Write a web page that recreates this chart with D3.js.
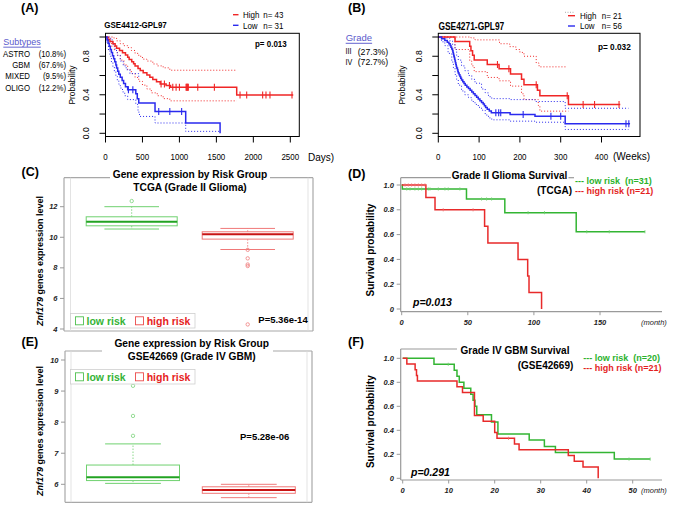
<!DOCTYPE html>
<html><head><meta charset="utf-8">
<script src="https://cdn.jsdelivr.net/npm/d3@7"></script>
<style>body{margin:0;background:#fff} svg{display:block} text{font-family:"Liberation Sans",Arial,Helvetica,sans-serif}</style>
</head><body><svg id="c" width="675" height="506"></svg>
<script>
// ---------------- DATA ----------------
const subtypeNames = ["ASTRO","GBM","MIXED","OLIGO"];
const subtypePct = ["(10.8%)","(67.6%)","(9.5%)","(12.2%)"];
const gradeNames = ["III","IV"];
const gradePct = ["(27.3%)","(72.7%)"];

// Panel A (days, probability)
const kmA_high = [[0,1],[30,0.977],[60,0.953],[100,0.93],[130,0.907],[150,0.884],[190,0.86],[230,0.837],[270,0.814],[300,0.791],[320,0.767],[355,0.744],[380,0.721],[400,0.698],[440,0.674],[470,0.651],[510,0.628],[560,0.605],[600,0.581],[640,0.558],[690,0.535],[740,0.512],[820,0.497],[880,0.478],[1775,0.398],[2540,0.398]];
const censA_high = [752,797,865,910,955,1000,1090,1099,1105,1113,1120,1248,1473,1820,1910,2126,2171,2225,2523];
const kmA_low = [[0,1],[20,0.968],[35,0.935],[50,0.903],[65,0.871],[80,0.839],[95,0.806],[110,0.774],[125,0.742],[140,0.71],[150,0.677],[165,0.645],[180,0.613],[200,0.581],[225,0.548],[245,0.516],[270,0.484],[300,0.452],[410,0.41],[430,0.36],[450,0.315],[670,0.227],[1085,0.108],[1550,0]];
const censA_low = [310,370,720,870,1030];
const ciA_high_up = [[0,1],[80,1],[110,0.99],[150,0.96],[200,0.93],[250,0.91],[300,0.89],[350,0.86],[400,0.83],[450,0.8],[500,0.77],[560,0.75],[640,0.72],[700,0.7],[780,0.68],[870,0.655],[1775,0.655]];
const ciA_high_lo = [[0,1],[40,0.95],[80,0.905],[120,0.86],[160,0.81],[200,0.76],[250,0.71],[300,0.66],[350,0.62],[400,0.58],[450,0.54],[500,0.5],[560,0.46],[620,0.42],[700,0.39],[780,0.36],[870,0.337],[1775,0.337]];
const ciA_low_up = [[0,1],[40,1],[70,0.97],[100,0.92],[130,0.86],[160,0.81],[200,0.75],[240,0.7],[280,0.66],[330,0.62],[450,0.58]];
const ciA_low_lo = [[0,1],[20,0.93],[40,0.86],[60,0.8],[80,0.74],[100,0.69],[120,0.64],[140,0.59],[160,0.55],[180,0.51],[200,0.47],[230,0.43],[260,0.39],[300,0.35],[410,0.3],[440,0.22],[460,0.175],[670,0.107],[1085,0.02],[1540,0.02]];
const ticksA_x = [0,500,1000,1500,2000,2500];

// Panel B (weeks, probability)
const kmB_high = [[0,1],[41,0.952],[77,0.905],[80,0.857],[84,0.81],[88,0.762],[120,0.714],[149,0.67],[177,0.615],[204,0.56],[210,0.505],[243,0.447],[249,0.389],[319,0.3],[446,0.3]];
const censB_high = [145,173,240,316,355,383,443];
const kmB_low = [[0,1],[8,0.982],[16,0.964],[22,0.946],[26,0.929],[29,0.911],[31,0.893],[33,0.875],[35,0.857],[36,0.839],[37,0.821],[38,0.804],[39,0.786],[40,0.768],[41,0.75],[42,0.732],[43,0.714],[44,0.696],[45,0.679],[47,0.661],[48,0.643],[49,0.625],[51,0.607],[53,0.589],[55,0.571],[57,0.554],[60,0.536],[63,0.518],[66,0.5],[70,0.482],[74,0.464],[78,0.446],[82,0.429],[86,0.411],[90,0.393],[94,0.375],[98,0.357],[102,0.339],[106,0.321],[110,0.304],[113,0.286],[116,0.268],[120,0.25],[125,0.232],[130,0.214],[176,0.196],[237,0.178],[311,0.098],[470,0.098]];
const censB_low = [141,148,153,208,276,300,460,467];
const ciB_high_up = [[0,1],[80,0.99],[90,0.97],[150,0.93],[175,0.9],[190,0.87],[200,0.84],[210,0.8],[240,0.73],[247,0.69],[316,0.69]];
const ciB_high_lo = [[0,1],[41,0.87],[77,0.75],[82,0.7],[88,0.64],[120,0.58],[149,0.545],[177,0.49],[204,0.41],[210,0.35],[245,0.29],[249,0.23],[319,0.23]];
const ciB_low_up = [[0,1],[20,0.99],[28,0.96],[35,0.92],[41,0.87],[45,0.81],[49,0.76],[57,0.7],[65,0.65],[74,0.6],[82,0.56],[90,0.52],[106,0.46],[115,0.42],[123,0.38],[131,0.36],[176,0.35],[237,0.33],[311,0.26],[466,0.26]];
const ciB_low_lo = [[0,1],[8,0.95],[16,0.91],[24,0.83],[33,0.74],[37,0.68],[41,0.61],[45,0.56],[49,0.5],[57,0.44],[65,0.4],[74,0.37],[82,0.33],[90,0.3],[98,0.27],[106,0.24],[115,0.19],[123,0.16],[131,0.14],[176,0.126],[237,0.115],[311,0.04],[466,0.04]];
const ticksB_x = [0,100,200,300,400];
const ticksAB_y = [0,0.2,0.4,0.6,0.8,1.0];
const labelsAB_y = [0,0.4,0.8];

// Panels C / E (box plots)
const groups = ["low risk","high risk"];
const boxC_lo = [10.54, 9.2], boxC_q1 = [10.75, 9.88], boxC_med = [11.01, 10.19], boxC_q3 = [11.34, 10.36], boxC_hi = [12.0, 10.58];
const outC_low = [12.37], outC_high = [9.18, 8.62, 8.22, 8.12, 4.3];
const ticksC_y = [4,6,8,10,12];
const boxE_lo = [6.03, 5.57], boxE_q1 = [6.12, 5.71], boxE_med = [6.23, 5.82], boxE_q3 = [6.62, 5.92], boxE_hi = [7.3, 6.0];
const outE_low = [7.56, 8.2, 9.17], outE_high = [];
const ticksE_y = [6,7,8,9,10];

// Panel D (months)
const kmD_low = [[0,1],[0.5,0.968],[49,0.887],[78,0.777],[132,0.623],[184,0.623]];
const censD_low = [3.8,6.3,10,12.6,15.1,20.1,21.4,27.7,32.7,35.2,44,60.4,64.2,68,95.6,108,140,157,184];
const kmD_high = [[0,1],[18.3,0.9],[25.2,0.8],[62.7,0.667],[65.2,0.533],[88,0.4],[95.3,0.267],[96.3,0.133],[105.8,0]];
const censD_high = [2.5,5,7.5,10,12.6,15.1,17.6,31.4,54];
const ticksD_x = [0,50,100,150];
const ticksDF_y = [0,0.2,0.4,0.6,0.8,1.0];
const labelsDF_y = ["0","0.2","0.4","0.6","0.8","1.0"];

// Panel F (months)
const kmF_low = [[0,1],[6.8,0.95],[11.2,0.9],[11.8,0.85],[12.3,0.8],[13.3,0.75],[14.8,0.7],[15.3,0.65],[15.7,0.6],[16.1,0.53],[19.3,0.47],[20.7,0.37],[27.5,0.32],[30.8,0.265],[33.2,0.215],[46,0.16],[53.8,0.16]];
const censF_low = [9.9,49.2,53.8];
const kmF_high = [[0,1],[0.9,0.952],[2.7,0.905],[3.0,0.857],[3.2,0.81],[11.8,0.762],[13.0,0.714],[15.6,0.524],[17.5,0.476],[20.0,0.381],[20.5,0.333],[24.3,0.286],[25.3,0.238],[36.0,0.19],[37.3,0.143],[39.2,0.095],[42.5,0]];
const censF_high = [23];
const ticksF_x = [0,10,20,30,40,50];

// ---------------- DRAWING ----------------
const svg = d3.select('#c');
const RED = '#f02626', BLUE = '#2a2aee', GRN = '#33b533', RED2 = '#e82a2a';

function T(g, x, y, s, o = {}) {
  let tr = `translate(${x},${y})`;
  if (o.rot) tr += ` rotate(${o.rot})`;
  if (o.sx) tr += ` scale(${o.sx},1)`;
  const t = g.append('text').attr('transform', tr).attr('font-size', o.size || 10)
    .attr('font-weight', o.bold ? 'bold' : 'normal').attr('font-style', o.italic ? 'italic' : 'normal')
    .attr('fill', o.fill || '#000').attr('text-anchor', o.anchor || 'start')
    .attr('dominant-baseline', o.base || 'central').style('white-space', 'pre').text(s);
  if (o.underline) t.attr('text-decoration', 'underline');
  return t;
}
function L(g, x1, y1, x2, y2, c, w, dash) {
  return g.append('line').attr('x1', x1).attr('y1', y1).attr('x2', x2).attr('y2', y2)
    .attr('stroke', c).attr('stroke-width', w || 1).attr('stroke-dasharray', dash || null);
}
function km(g, data, xs, ys, color, w, dash) {
  g.append('path').datum(data)
    .attr('d', d3.line().x(d => xs(d[0])).y(d => ys(d[1])).curve(d3.curveStepAfter))
    .attr('fill', 'none').attr('stroke', color).attr('stroke-width', w).attr('stroke-dasharray', dash || null);
}
function stepVal(curve, t) { let v = curve[0][1]; for (const p of curve) { if (p[0] <= t) v = p[1]; else break; } return v; }
function censor(g, times, curve, xs, ys, color, h, w) {
  g.selectAll(null).data(times).join('line')
    .attr('x1', d => xs(d)).attr('x2', d => xs(d))
    .attr('y1', d => ys(stepVal(curve, d)) - h).attr('y2', d => ys(stepVal(curve, d)) + h)
    .attr('stroke', color).attr('stroke-width', w || 1);
}
const panelLab = (x, y, s) => T(svg, x, y, s, {size: 12.5, bold: true, base: 'auto'});

// ===== Panel A & B (R style KM) =====
function rKM(cfg) {
  const g = svg.append('g');
  const xs = cfg.xs, ys = cfg.ys;
  [cfg.ciHu, cfg.ciHl].forEach(d => km(g, d, xs, ys, RED, 1, '1,2'));
  [cfg.ciLu, cfg.ciLl].forEach(d => km(g, d, xs, ys, BLUE, 1, '1,2'));
  km(g, cfg.high, xs, ys, RED, 1.5);
  km(g, cfg.low, xs, ys, BLUE, 1.5);
  censor(g, cfg.cH, cfg.high, xs, ys, RED, 3.5, 1.1);
  censor(g, cfg.cL, cfg.low, xs, ys, BLUE, 3.5, 1.1);
  g.append('rect').attr('x', cfg.box[0]).attr('y', cfg.box[1]).attr('width', cfg.box[2] - cfg.box[0])
    .attr('height', cfg.box[3] - cfg.box[1]).attr('fill', 'none').attr('stroke', '#000').attr('stroke-width', 1);
  cfg.xt.forEach(v => { L(g, xs(v), cfg.box[3], xs(v), cfg.box[3] + 6, '#000', 1);
    T(g, xs(v), 157, String(v), {size: 9.5, anchor: 'middle', sx: 0.84}); });
  ticksAB_y.forEach(v => L(g, cfg.box[0] - 6, ys(v), cfg.box[0], ys(v), '#000', 1));
  labelsAB_y.forEach(v => T(g, cfg.box[0] - 19.5, ys(v), v.toFixed(1), {size: 9.5, anchor: 'middle', rot: -90, sx: 0.9}));
  T(g, cfg.ylx, 85, 'Probability', {size: 9.5, anchor: 'middle', rot: -90, sx: 0.88});
  return g;
}
const yAB = d3.scaleLinear([0, 1], [133.3, 37]);
const xA = d3.scaleLinear([0, 2500], [105.5, 290.3]);
const gA = rKM({xs: xA, ys: yAB, high: kmA_high, low: kmA_low, cH: censA_high, cL: censA_low, ylx: 71.7,
  ciHu: ciA_high_up, ciHl: ciA_high_lo, ciLu: ciA_low_up, ciLl: ciA_low_lo, box: [105.5, 33.3, 299.3, 136.5], xt: ticksA_x});
T(gA, 308, 157, 'Days)', {size: 10});
T(gA, 104.3, 24.5, 'GSE4412-GPL97', {size: 9.5, bold: true, sx: 0.84});
T(gA, 255, 43.5, 'p= 0.013', {size: 9.5, bold: true, sx: 0.84});
L(gA, 233, 14.7, 238.5, 14.7, RED, 1.4); L(gA, 233, 25.3, 238.5, 25.3, BLUE, 1.4);
T(gA, 243, 14.7, 'High', {size: 9.5, sx: 0.84}); T(gA, 263.3, 14.7, 'n= 43', {size: 9.5, sx: 0.84});
T(gA, 243, 25.3, 'Low', {size: 9.5, sx: 0.84}); T(gA, 263.3, 25.3, 'n= 31', {size: 9.5, sx: 0.84});
T(gA, 3.3, 41.7, 'Subtypes', {size: 9, fill: '#5a5acc', underline: true});
subtypeNames.forEach((s, i) => { const y = 54.3 + i * 11.2;
  T(gA, 30, y, s, {size: 8.5, anchor: 'end', sx: 0.92}); T(gA, 66, y, subtypePct[i], {size: 8.5, anchor: 'end', sx: 0.92}); });
panelLab(21, 12, '(A)');

const xB = d3.scaleLinear([0, 400], [438.3, 601.5]);
const gB = rKM({xs: xB, ys: yAB, high: kmB_high, low: kmB_low, cH: censB_high, cL: censB_low, ylx: 402,
  ciHu: ciB_high_up, ciHl: ciB_high_lo, ciLu: ciB_low_up, ciLl: ciB_low_lo, box: [438.3, 33.3, 640, 136.5], xt: ticksB_x});
T(gB, 613, 156, '(Weeks)', {size: 10});
T(gB, 438.5, 26.7, 'GSE4271-GPL97', {size: 10, bold: true, sx: 0.84});
T(gB, 598, 46.7, 'p= 0.032', {size: 9.8, bold: true, sx: 0.84});
L(gB, 568, 15.7, 575, 15.7, RED, 1.4); L(gB, 568, 26, 575, 26, BLUE, 1.4);
L(gB, 565, 12.3, 575, 12.3, '#999', 0.8, '1,1.5');
T(gB, 580, 15.7, 'High', {size: 9.5, sx: 0.84}); T(gB, 601.7, 15.7, 'n= 21', {size: 9.5, sx: 0.84});
T(gB, 580, 26, 'Low', {size: 9.5, sx: 0.84}); T(gB, 601.7, 26, 'n= 56', {size: 9.5, sx: 0.84});
T(gB, 345.7, 37.3, 'Grade', {size: 9.5, fill: '#5a5acc', underline: true});
gradeNames.forEach((s, i) => { const y = 51.7 + i * 10.6;
  T(gB, 345.5, y, s, {size: 9, sx: 0.8}); T(gB, 357.7, y, gradePct[i], {size: 9.5, sx: 0.92}); });
panelLab(348, 12, '(B)');

// ===== Panels C & E (box plots) =====
function boxPanel(cfg) {
  const g = svg.append('g');
  const ys = cfg.ys;
  const xs = d3.scalePoint(groups, cfg.centers);
  const fr = '#a8a8a8';
  L(g, cfg.fx[0], cfg.ft, cfg.fx[0], cfg.fb, fr, 1.2);
  L(g, cfg.fx[1], cfg.ft, cfg.fx[1], cfg.fb, fr, 1.2);
  L(g, cfg.fx[0], cfg.fb, cfg.fx[1], cfg.fb, fr, 1.2);
  L(g, cfg.fx[0], cfg.ft, cfg.tg[0], cfg.ft, fr, 1.2);
  L(g, cfg.tg[1], cfg.ft, cfg.fx[1], cfg.ft, fr, 1.2);
  L(g, cfg.ix[0], cfg.ft, cfg.ix[0], cfg.fb, '#dcdcdc', 0.8);
  L(g, cfg.ix[1], cfg.ft, cfg.ix[1], cfg.fb, '#dcdcdc', 0.8);
  cfg.ticks.forEach(v => { L(g, cfg.fx[0] - 4, ys(v), cfg.fx[0], ys(v), '#999', 1);
    T(g, cfg.fx[0] - 6.5, ys(v), String(v), {size: 7.5, bold: true, italic: true, anchor: 'end', fill: '#222'}); });
  const cols = [{s: '#6fd16f', m: '#22a322', o: '#8ad88a'}, {s: '#f07878', m: '#c81414', o: '#f08a8a'}];
  groups.forEach((gname, i) => {
    const cx = xs(gname), w = cfg.bw, c = cols[i];
    L(g, cx, ys(cfg.q3[i]), cx, ys(cfg.hi[i]), c.o, 1, '1.5,1.5');
    L(g, cx, ys(cfg.q1[i]), cx, ys(cfg.lo[i]), c.o, 1, '1.5,1.5');
    L(g, cx - w * 0.3, ys(cfg.hi[i]), cx + w * 0.3, ys(cfg.hi[i]), c.s, 1);
    L(g, cx - w * 0.3, ys(cfg.lo[i]), cx + w * 0.3, ys(cfg.lo[i]), c.s, 1);
    g.append('rect').attr('x', cx - w / 2).attr('y', ys(cfg.q3[i])).attr('width', w)
      .attr('height', ys(cfg.q1[i]) - ys(cfg.q3[i])).attr('fill', '#fff').attr('stroke', c.s).attr('stroke-width', 1);
    L(g, cx - w / 2, ys(cfg.med[i]), cx + w / 2, ys(cfg.med[i]), c.m, 2);
    g.selectAll(null).data(cfg.out[i]).join('circle').attr('cx', cx).attr('cy', d => ys(d)).attr('r', 1.7)
      .attr('fill', 'none').attr('stroke', c.o).attr('stroke-width', 0.9);
  });
  T(g, cfg.tx, cfg.ty, 'Gene expression by Risk Group', {size: 10.2, bold: true, anchor: 'middle'});
  T(g, cfg.tx, cfg.ty + 13.4, cfg.t2, {size: 10.2, bold: true, anchor: 'middle'});
  const yl = T(g, 40, cfg.ylc, '', {size: 9, bold: true, anchor: 'middle', rot: -90});
  yl.append('tspan').attr('font-style', 'italic').text('Znf179');
  yl.append('tspan').text(' genes expression level');
  const ly = cfg.ly;
  g.append('rect').attr('x', 70.5).attr('y', ly).attr('width', 124.5).attr('height', 14.5)
    .attr('fill', '#fff').attr('stroke', '#cfcfcf').attr('stroke-width', 0.8);
  g.append('rect').attr('x', 75.5).attr('y', ly + 3.3).attr('width', 8).attr('height', 8)
    .attr('fill', '#fff').attr('stroke', '#4fc04f').attr('stroke-width', 0.9);
  g.append('rect').attr('x', 135.5).attr('y', ly + 3.3).attr('width', 8).attr('height', 8)
    .attr('fill', '#fff').attr('stroke', '#ec4a4a').attr('stroke-width', 0.9);
  T(g, 86.5, ly + 7.5, 'low risk', {size: 10.5, bold: true, fill: '#36b336'});
  T(g, 146.7, ly + 7.5, 'high risk', {size: 10.5, bold: true, fill: '#e62222'});
  T(g, cfg.px, cfg.py, cfg.p, {size: 9.5, bold: true});
  return g;
}
const yC = d3.scaleLinear([4, 12], [329, 206.7]);
boxPanel({ys: yC, centers: [131.7, 247.7], bw: 91, fx: [64, 313], ix: [70.5, 308], ft: 177.7, fb: 331, tg: [110, 270],
  ticks: ticksC_y, lo: boxC_lo, q1: boxC_q1, med: boxC_med, q3: boxC_q3, hi: boxC_hi, out: [outC_low, outC_high],
  tx: 190, ty: 174.3, t2: 'TCGA (Grade II Glioma)', ylc: 261, ly: 313.5, p: 'P=5.36e-14', px: 258.3, py: 319.5});
panelLab(21.5, 176, '(C)');

const yE = d3.scaleLinear([6, 10], [484.3, 360]);
boxPanel({ys: yE, centers: [133, 248.8], bw: 93, fx: [65, 312], ix: [71, 307], ft: 351, fb: 502.3, tg: [102, 273],
  ticks: ticksE_y, lo: boxE_lo, q1: boxE_q1, med: boxE_med, q3: boxE_q3, hi: boxE_hi, out: [outE_low, outE_high],
  tx: 191.7, ty: 343.3, t2: 'GSE42669 (Grade IV GBM)', ylc: 431, ly: 369.5, p: 'P=5.28e-06', px: 240, py: 436});
panelLab(21.5, 346, '(E)');

// ===== Panels D & F (KM) =====
function kmPanel(cfg) {
  const g = svg.append('g');
  const xs = cfg.xs, ys = cfg.ys, ax = '#9a9a9a';
  L(g, 400.7, cfg.top, 400.7, cfg.bot, ax, 1.2);
  L(g, 400.7, cfg.bot, 662, cfg.bot, ax, 1.2);
  cfg.topSeg.forEach(s => L(g, s[0], cfg.top, s[1], cfg.top, ax, 1.2));
  ticksDF_y.forEach((v, i) => { L(g, 396.7, ys(v), 400.7, ys(v), ax, 1);
    T(g, 394, ys(v), labelsDF_y[i], {size: 7.5, bold: true, italic: true, anchor: 'end', fill: '#222'}); });
  cfg.xt.forEach(v => { L(g, xs(v), cfg.bot, xs(v), cfg.bot + 3.5, ax, 1);
    T(g, xs(v), cfg.bot + 10.6, String(v), {size: 7.5, bold: true, italic: true, anchor: 'middle', fill: '#222'}); });
  T(g, 641, cfg.bot + 10.6, '(month)', {size: 7.5, italic: true, fill: '#222'});
  km(g, cfg.low, xs, ys, GRN, 1.5);
  km(g, cfg.high, xs, ys, RED2, 1.5);
  censor(g, cfg.cL, cfg.low, xs, ys, '#6fcf6f', 1.6, 0.8);
  censor(g, cfg.cH, cfg.high, xs, ys, '#f07070', 1.6, 0.8);
  T(g, 370, cfg.ylc, 'Survival probability', {size: 10, bold: true, anchor: 'middle', rot: -90});
  T(g, cfg.tx, cfg.ty, cfg.t1, {size: 10, bold: true, anchor: 'middle'});
  T(g, cfg.t2x, cfg.ty + 15, cfg.t2, {size: 10, bold: true, anchor: 'end'});
  T(g, cfg.lx, cfg.ly, cfg.l1, {size: 9, bold: true, fill: '#2cb22c'});
  T(g, cfg.lx, cfg.ly + 10.5, cfg.l2, {size: 9, bold: true, fill: '#e41f1f'});
  T(g, cfg.px, cfg.py, cfg.p, {size: 10.5, bold: true, italic: true});
  return g;
}
const xD = d3.scaleLinear([0, 150], [401.7, 600]);
const yD = d3.scaleLinear([0, 1], [309, 185]);
kmPanel({xs: xD, ys: yD, top: 177.7, bot: 311.7, topSeg: [[400.7, 451], [568.5, 574]], xt: ticksD_x,
  low: kmD_low, high: kmD_high, cL: censD_low, cH: censD_high, ylc: 250,
  tx: 509.5, ty: 175, t1: 'Grade II Glioma Survival', t2x: 572, t2: '(TCGA)',
  lx: 575, ly: 180.7, l1: '--- low risk  (n=31)', l2: '--- high risk (n=21)', px: 413, py: 301.7, p: 'p=0.013'});
panelLab(348, 178, '(D)');

const xF = d3.scaleLinear([0, 50], [402.7, 632.7]);
const yF = d3.scaleLinear([0, 1], [478.3, 358.3]);
kmPanel({xs: xF, ys: yF, top: 349, bot: 480, topSeg: [[400.7, 457]], xt: ticksF_x,
  low: kmF_low, high: kmF_high, cL: censF_low, cH: censF_high, ylc: 421.7,
  tx: 515, ty: 350.5, t1: 'Grade IV GBM Survival', t2x: 573.3, t2: '(GSE42669)',
  lx: 583.3, ly: 357.7, l1: '--- low risk  (n=20)', l2: '--- high risk (n=21)', px: 411, py: 471.7, p: 'p=0.291'});
panelLab(348, 346, '(F)');
</script></body></html>
